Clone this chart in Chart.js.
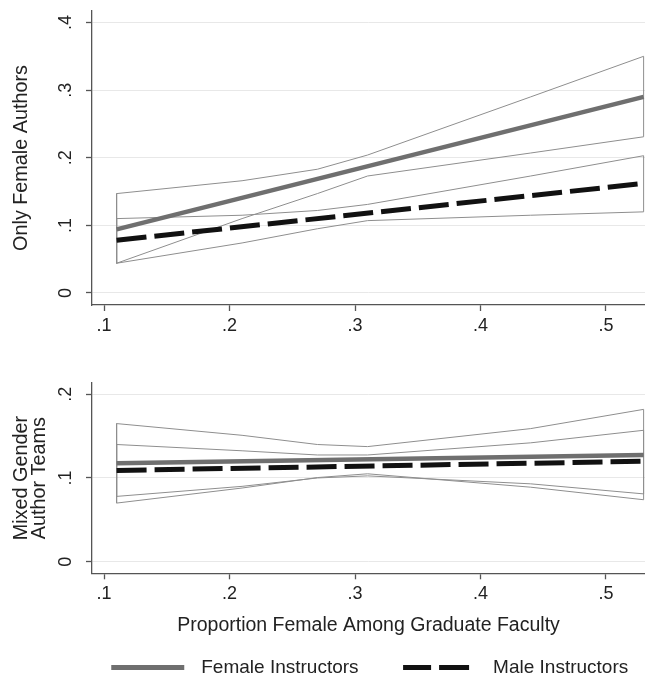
<!DOCTYPE html>
<html>
<head>
<meta charset="utf-8">
<script src="https://cdn.jsdelivr.net/npm/chart.js"></script>
<style>
  html, body { margin: 0; padding: 0; background: #fff; overflow: hidden; }
  canvas { display: block; }
</style>
</head>
<body>
<canvas id="topChart" width="645" height="345"></canvas>
<canvas id="mixChart" width="645" height="342"></canvas>
<script>
// x positions of the fitted lines and of the confidence band vertices
const xEnds = [0.11, 0.53];
const xBand = [0.11, 0.21, 0.27, 0.31, 0.44, 0.53];

// panel 1: only female authors
const femaleTop = [0.094, 0.290];
const maleTop = [0.078, 0.162];
const femaleTopHi = [0.147, 0.166, 0.183, 0.204, 0.290, 0.350];
const femaleTopLo = [0.044, 0.110, 0.147, 0.173, 0.207, 0.231];
const maleTopHi = [0.110, 0.115, 0.122, 0.131, 0.173, 0.203];
const maleTopLo = [0.044, 0.074, 0.095, 0.107, 0.115, 0.120];

// panel 2: mixed gender author teams
const femaleMix = [0.1175, 0.1275];
const maleMix = [0.109, 0.120];
const femaleMixHi = [0.165, 0.151, 0.140, 0.1375, 0.159, 0.182];
const femaleMixLo = [0.070, 0.088, 0.1005, 0.105, 0.089, 0.074];
const maleMixHi = [0.140, 0.1325, 0.1275, 0.1275, 0.142, 0.157];
const maleMixLo = [0.078, 0.090, 0.100, 0.1025, 0.093, 0.081];

// axes
const xTicks = [0.1, 0.2, 0.3, 0.4, 0.5];
const xTickLabels = [".1", ".2", ".3", ".4", ".5"];
const yTicksTop = [0, 0.1, 0.2, 0.3, 0.4];
const yTickLabelsTop = ["0", ".1", ".2", ".3", ".4"];
const yTicksMix = [0, 0.1, 0.2];
const yTickLabelsMix = ["0", ".1", ".2"];

const FONT = "'Liberation Sans', Arial, sans-serif";
const TEXT = "#222";
const AXIS = "#555";
const FEMALE = "#6f6f6f";
const MALE = "#111";
const BAND = "#8e8e8e";

function line(xs, ys) {
  return xs.map((x, i) => ({ x, y: ys[i] }));
}

// closed outline of a confidence band: lower edge left to right, upper edge back
function band(lo, hi) {
  const pts = line(xBand, lo);
  for (let i = xBand.length - 1; i >= 0; i--) pts.push({ x: xBand[i], y: hi[i] });
  pts.push({ x: xBand[0], y: lo[0] });
  return pts;
}

function datasets(f, m, fLo, fHi, mLo, mHi) {
  const common = { pointRadius: 0, tension: 0, fill: false };
  return [
    { ...common, label: "Female Instructors", data: line(xEnds, f), borderColor: FEMALE, borderWidth: 4.5, order: 0 },
    { ...common, label: "Male Instructors", data: line(xEnds, m), borderColor: MALE, borderWidth: 5, borderDash: [30, 8], order: 0 },
    { ...common, data: band(fLo, fHi), borderColor: BAND, borderWidth: 1, order: 1 },
    { ...common, data: band(mLo, mHi), borderColor: BAND, borderWidth: 1, order: 1 }
  ];
}

function xScale(height, withTitle) {
  return {
    type: "linear",
    min: 0.0904,
    max: 0.5311,
    afterBuildTicks: s => { s.ticks = xTicks.map(v => ({ value: v })); },
    afterFit: s => { s.height = height; s.paddingLeft = 0; s.paddingRight = 0; },
    grid: { drawOnChartArea: false, tickColor: AXIS, tickLength: 6, tickWidth: 1.3 },
    border: { color: AXIS, width: 1.3 },
    ticks: {
      color: TEXT, font: { family: FONT, size: 18 }, padding: 4, maxRotation: 0,
      callback: (v, i) => xTickLabels[i]
    },
    title: {
      display: withTitle,
      text: "Proportion Female Among Graduate Faculty",
      color: TEXT,
      font: { family: FONT, size: 19.5 },
      padding: { top: 0, bottom: 0.4 }
    }
  };
}

function yScale(min, max, ticks, labels, title) {
  return {
    type: "linear",
    min, max,
    afterBuildTicks: s => { s.ticks = ticks.map(v => ({ value: v })); },
    afterFit: s => { s.width = 92; s.paddingTop = 0; s.paddingBottom = 0; },
    grid: { color: "#e8e8e8", lineWidth: 1, tickColor: AXIS, tickLength: 6, tickWidth: 1.3 },
    border: { color: AXIS, width: 1.3 },
    ticks: {
      color: TEXT, font: { family: FONT, size: 18 }, padding: 12.5,
      minRotation: 90, maxRotation: 90, crossAlign: "center",
      callback: (v, i) => labels[i]
    },
    title: {
      display: true,
      text: title,
      color: TEXT,
      font: { family: FONT, size: 19.8, lineHeight: 0.9 },
      padding: { top: 12.7, bottom: 0 }
    }
  };
}

Chart.defaults.font.family = FONT;

new Chart(document.getElementById("topChart"), {
  type: "line",
  data: { datasets: datasets(femaleTop, maleTop, femaleTopLo, femaleTopHi, maleTopLo, maleTopHi) },
  options: {
    responsive: false,
    animation: false,
    events: [],
    layout: { padding: { top: 11, left: 0, right: 0, bottom: 0 } },
    plugins: { legend: { display: false }, tooltip: { enabled: false } },
    scales: {
      x: xScale(40, false),
      y: yScale(-0.01775, 0.417, yTicksTop, yTickLabelsTop, "Only Female Authors")
    }
  }
});

// widen the legend box to the right so the centred row sits under the plot area
const legendShift = {
  id: "legendShift",
  afterLayout(chart) { chart.legend.left = 35; chart.legend.right = 680; }
};

new Chart(document.getElementById("mixChart"), {
  type: "line",
  data: { datasets: datasets(femaleMix, maleMix, femaleMixLo, femaleMixHi, maleMixLo, maleMixHi) },
  options: {
    responsive: false,
    animation: false,
    events: [],
    layout: { padding: { top: 38, left: 0, right: 0, bottom: 0 } },
    plugins: {
      tooltip: { enabled: false },
      legend: {
        position: "bottom",
        labels: {
          color: TEXT,
          font: { family: FONT, size: 19 },
          padding: 20,
          usePointStyle: true,
          pointStyleWidth: 105,
          generateLabels: () => [
            { text: "Female Instructors", pointStyle: "line", strokeStyle: FEMALE, lineWidth: 5,
              lineDash: [73, 32], lineDashOffset: 80.5, fontColor: TEXT },
            { text: "Male Instructors", pointStyle: "line", strokeStyle: MALE, lineWidth: 5,
              lineDash: [28, 8, 30, 39], lineDashOffset: 80.5, fontColor: TEXT }
          ]
        }
      }
    },
    scales: {
      x: xScale(64.7, true),
      y: yScale(-0.0139, 0.2135, yTicksMix, yTickLabelsMix, ["Mixed Gender", "Author Teams"])
    }
  },
  plugins: [legendShift]
});
</script>
</body>
</html>
